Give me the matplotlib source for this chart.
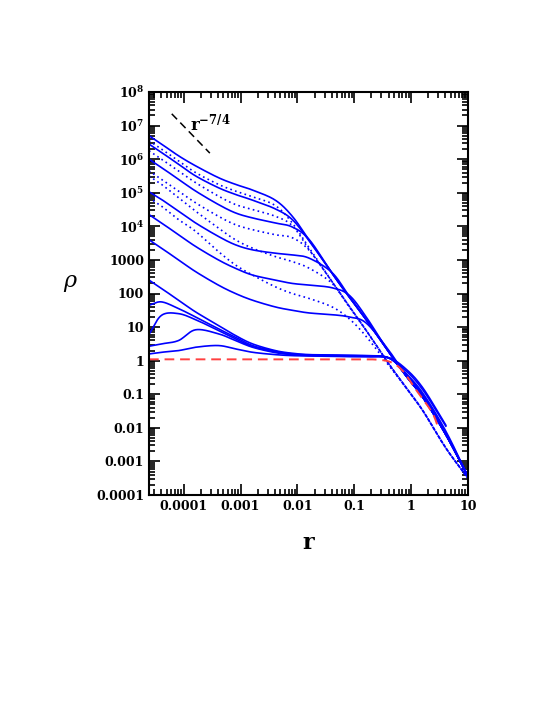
import numpy as np
import matplotlib
matplotlib.use("Agg")
import matplotlib.pyplot as plt

# log10 r grid
lx = [-4.61,-4.39,-4.09,-3.79,-3.39,-3.09,-2.79,-2.39,-2.09,-1.79,-1.39,-1.09,-0.79,-0.39,-0.09,0.21,0.61,1.0]

# log10 rho, solid curves
S1 = [6.7,6.45,6.1,5.8,5.45,5.25,5.08,4.78,4.3,3.58,2.6,1.9,1.22,0.25,-0.45,-1.1,-2.2,-3.45]
S2 = [6.45,6.2,5.85,5.5,5.15,4.95,4.78,4.52,4.2,3.56,2.6,1.9,1.22,0.25,-0.45,-1.1,-2.2,-3.45]
S3 = [6.0,5.75,5.4,5.05,4.65,4.4,4.25,4.1,3.98,3.6,2.6,1.9,1.22,0.25,-0.45,-1.1,-2.2,-3.45]
S4 = [5.03,4.8,4.45,4.1,3.7,3.45,3.3,3.2,3.15,3.05,2.62,1.92,1.22,0.25,-0.45,-1.1,-2.2,-3.45]
S5 = [4.35,4.1,3.75,3.4,3.0,2.75,2.55,2.4,2.3,2.25,2.17,1.95,1.3,0.25,-0.45,-1.1,-2.2,-3.45]
S6 = [3.6,3.35,3.0,2.65,2.25,2.0,1.8,1.6,1.5,1.42,1.37,1.3,1.12,0.3,-0.45,-1.1,-2.2,-3.45]
S7 = [2.4,2.15,1.8,1.45,1.05,0.75,0.5,0.3,0.22,0.18,0.17,0.16,0.15,0.08,-0.4,-1.08,-2.2,-3.45]
S8 = [1.65,1.75,1.55,1.3,0.95,0.7,0.45,0.28,0.2,0.17,0.16,0.15,0.14,0.08,-0.4,-1.03,-2.15,-3.45]
S9 = [0.78,1.35,1.4,1.22,0.9,0.65,0.42,0.26,0.19,0.16,0.15,0.14,0.13,0.08,-0.38,-0.98,-2.1,-3.45]
S10 = [0.43,0.5,0.6,0.92,0.8,0.6,0.4,0.24,0.18,0.15,0.14,0.13,0.12,0.08,-0.3,-0.88,-1.95]
S11 = [0.2,0.25,0.3,0.4,0.45,0.35,0.25,0.18,0.15,0.14,0.13,0.12,0.12,0.08,-0.25,-0.82,-1.92]
solid = [S1,S2,S3,S4,S5,S6,S7,S8,S9,S10,S11]

# dotted curves
D1 = [6.55,6.3,5.95,5.6,5.25,5.05,4.88,4.62,4.1,3.35,2.35,1.62,0.9,-0.1,-0.8,-1.5,-2.6,-3.5]
D2 = [6.25,6.0,5.65,5.3,4.9,4.65,4.5,4.3,4.02,3.3,2.35,1.62,0.9,-0.1,-0.8,-1.5,-2.6,-3.5]
D3 = [5.65,5.4,5.05,4.7,4.3,4.05,3.9,3.75,3.66,3.28,2.35,1.62,0.9,-0.1,-0.8,-1.5,-2.6,-3.5]
D4 = [5.5,5.25,4.85,4.45,3.95,3.6,3.35,3.1,2.95,2.75,2.3,1.6,0.9,-0.1,-0.8,-1.5,-2.6,-3.5]
D5 = [4.85,4.6,4.2,3.85,3.25,2.85,2.55,2.2,2.0,1.85,1.6,1.25,0.72,-0.15,-0.8,-1.5,-2.6,-3.5]
dotted = [D1,D2,D3,D4,D5]

# red initial profile
red_lx = [-4.61,-3.0,-2.0,-1.0,-0.6,-0.35,-0.15,0.1,0.37,0.49]
red_ly = [0.04,0.04,0.04,0.04,0.03,-0.05,-0.3,-0.9,-1.55,-2.06]

# slope guide r^-7/4
guide_lx = [-4.21,-3.54]
guide_ly = [7.35,6.18]

xticks = [1e-4,1e-3,1e-2,1e-1,1,10]
xticklabels = ["0.0001","0.001","0.01","0.1","1","10"]
yticks = [1e-4,1e-3,1e-2,1e-1,1,10,100,1000,1e4,1e5,1e6,1e7,1e8]
yticklabels = ["0.0001","0.001","0.01","0.1","1","10","100","1000",
               r"$\mathbf{10^4}$",r"$\mathbf{10^5}$",r"$\mathbf{10^6}$",r"$\mathbf{10^7}$",r"$\mathbf{10^8}$"]

def smooth(xs, ys, n=20):
    # Catmull-Rom drawing curve through the given points
    m = min(len(xs), len(ys))
    p = np.column_stack([xs[:m], ys[:m]]).astype(float)
    p = np.vstack([2*p[0]-p[1], p, 2*p[-1]-p[-2]])
    out = []
    t = np.linspace(0, 1, n, endpoint=False)[:, None]
    for i in range(1, len(p)-2):
        p0, p1, p2, p3 = p[i-1], p[i], p[i+1], p[i+2]
        seg = 0.5*((2*p1) + (-p0+p2)*t + (2*p0-5*p1+4*p2-p3)*t**2 + (-p0+3*p1-3*p2+p3)*t**3)
        out.append(seg)
    out.append(p[-2][None, :])
    out = np.vstack(out)
    return 10**out[:, 0], 10**out[:, 1]

plt.rcParams['font.family'] = 'DejaVu Serif'
plt.rcParams['mathtext.fontset'] = 'dejavuserif'
fig = plt.figure(figsize=(5.45,7.05), dpi=100)
ax = fig.add_axes([149/545, 210/705, 319/545, 403/705])
for c in solid:
    ax.plot(*smooth(lx, c), color='#0000ff', lw=1.2)
for c in dotted:
    ax.plot(*smooth(lx, c), color='#0000ff', lw=1.2, ls=(0,(1,2)))
ax.plot(*smooth(red_lx, red_ly), color='#ff4040', lw=1.4, ls=(0,(5,3)))
ax.plot(10**np.array(guide_lx), 10**np.array(guide_ly), color='k', lw=1.1, ls=(0,(5,3)))
ax.text(10**-3.89, 10**6.85, r"$\mathbf{r^{-7/4}}$", fontsize=12)

ax.set_xscale('log'); ax.set_yscale('log')
ax.set_xlim(10**-4.61, 10); ax.set_ylim(1e-4, 1e8)
ax.set_xticks(xticks); ax.set_xticklabels(xticklabels, fontweight='bold', fontsize=9)
ax.set_yticks(yticks); ax.set_yticklabels(yticklabels, fontweight='bold', fontsize=9)
ax.yaxis.set_minor_locator(matplotlib.ticker.LogLocator(base=10, subs=np.arange(2,10), numticks=100))
ax.xaxis.set_minor_locator(matplotlib.ticker.LogLocator(base=10, subs=np.arange(2,10), numticks=100))
ax.yaxis.set_minor_formatter(matplotlib.ticker.NullFormatter())
ax.xaxis.set_minor_formatter(matplotlib.ticker.NullFormatter())
ax.tick_params(which='both', direction='in', top=True, right=True, width=1.2)
ax.tick_params(which='major', length=8)
ax.tick_params(which='minor', length=4)
for s in ax.spines.values():
    s.set_linewidth(1.5)
ax.set_xlabel("r", fontsize=16, fontweight='bold', labelpad=14)
ax.set_ylabel(r"$\rho$", fontsize=16, rotation=0, labelpad=18)
fig.savefig("out.png", dpi=100)
